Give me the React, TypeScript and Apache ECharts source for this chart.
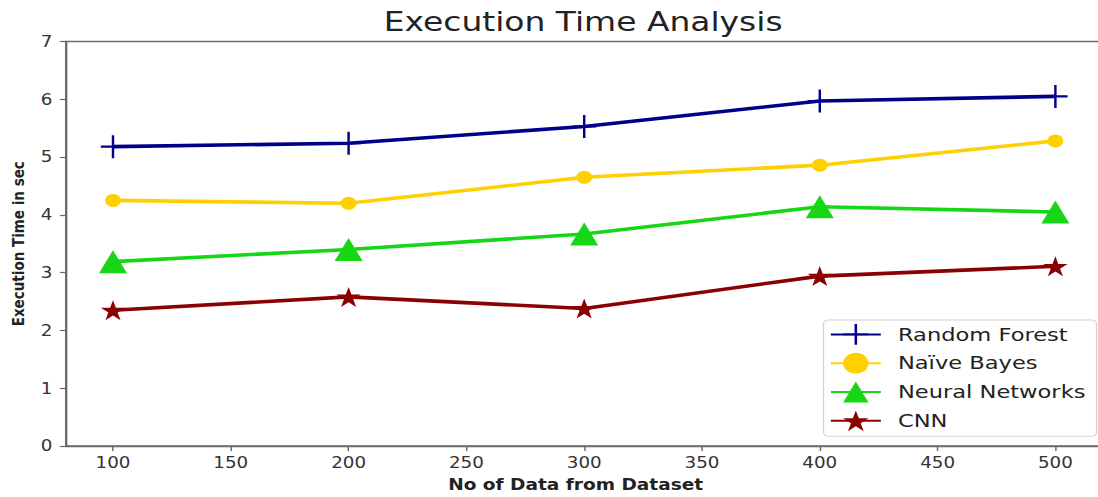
import React, { useEffect, useRef } from "react";
import * as echarts from "echarts";

const titleText = "Execution Time Analysis";
const xAxisName = "No of Data from Dataset";
const yAxisName = "Execution Time in sec";
const xValues = [100, 200, 300, 400, 500];
const xTickValues = [100, 150, 200, 250, 300, 350, 400, 450, 500];
const seriesNames = ["Random Forest", "Naïve Bayes", "Neural Networks", "CNN"];
const randomForest = [5.18, 5.24, 5.53, 5.97, 6.05];
const naiveBayes = [4.25, 4.2, 4.65, 4.86, 5.28];
const neuralNetworks = [3.19, 3.4, 3.67, 4.14, 4.05];
const cnn = [2.35, 2.58, 2.38, 2.94, 3.11];
const seriesColors = ["#00008b", "#ffd000", "#16d616", "#8b0000"];

const STRETCH = 1.22;
const FULL_W = 1098;
const FULL_H = 497;
const LOGICAL_W = 906;
const FONT = "DejaVu Sans";

const plusPath = "path://M9,0h2v22h-2zM0,10h20v2h-20z";
const starPath =
  "path://M0,-10L2.245,-3.09L9.511,-3.09L3.633,1.18L5.878,8.09L0,3.82L-5.878,8.09L-3.633,1.18L-9.511,-3.09L-2.245,-3.09Z";

export default function App() {
  const ref = useRef<HTMLDivElement>(null);

  useEffect(() => {
    if (!ref.current) return;
    const chart = echarts.init(ref.current, null, { renderer: "svg" });
    const allData = [randomForest, naiveBayes, neuralNetworks, cnn];
    const symbols = [plusPath, "circle", "triangle", starPath];
    const sizes: any[] = [[20, 23], 13, 23, [20, 20]];

    chart.setOption({
      animation: false,
      backgroundColor: "#ffffff",
      textStyle: { fontFamily: FONT },
      graphic: [
        {
          type: "text",
          x: 478,
          y: 22,
          style: {
            text: titleText,
            fontFamily: FONT,
            fontSize: 27,
            fill: "#222222",
            textAlign: "center",
            textVerticalAlign: "middle",
          },
        },
      ],
      grid: {
        left: 52.9,
        right: LOGICAL_W - 903.7,
        top: 41.5,
        bottom: 47.5,
        show: true,
        borderColor: "#6a6a6a",
        borderWidth: 1.4,
        backgroundColor: "transparent",
      },
      legend: {
        orient: "vertical",
        left: 675,
        top: 320,
        data: seriesNames,
        itemWidth: 41,
        itemHeight: 26,
        itemGap: 8,
        padding: [4, 9, 5, 5],
        backgroundColor: "rgba(255,255,255,0.85)",
        borderColor: "#d2d2d2",
        borderWidth: 1,
        borderRadius: 4,
        textStyle: {
          fontFamily: FONT,
          fontSize: 18.5,
          color: "#222222",
          padding: [0, 0, 0, 9],
        },
      },
      xAxis: {
        type: "value",
        min: 80,
        max: 520,
        name: xAxisName,
        nameLocation: "middle",
        nameGap: 31,
        nameTextStyle: {
          fontFamily: FONT,
          fontSize: 15.2,
          fontWeight: "bold",
          color: "#222222",
          padding: [0, 14, 0, 0],
        },
        axisLine: { show: true, lineStyle: { color: "#6a6a6a", width: 1.4 } },
        axisTick: {
          show: true,
          inside: false,
          length: 5,
          lineStyle: { color: "#6a6a6a", width: 1.2 },
          customValues: xTickValues,
        },
        axisLabel: {
          fontFamily: FONT,
          fontSize: 15,
          color: "#333333",
          margin: 9,
          customValues: xTickValues,
        },
        splitLine: { show: false },
      },
      yAxis: {
        type: "value",
        min: 0,
        max: 7,
        interval: 1,
        name: yAxisName,
        nameLocation: "middle",
        nameGap: 32,
        nameTextStyle: {
          fontFamily: FONT,
          fontSize: 13.5,
          fontWeight: "bold",
          color: "#222222",
        },
        axisLine: { show: true, lineStyle: { color: "#6a6a6a", width: 1.4 } },
        axisTick: {
          show: true,
          inside: false,
          length: 5,
          lineStyle: { color: "#6a6a6a", width: 1.2 },
        },
        axisLabel: {
          fontFamily: FONT,
          fontSize: 15,
          color: "#333333",
          margin: 11,
        },
        splitLine: { show: false },
      },
      series: seriesNames.map((name, i) => ({
        name,
        type: "line",
        data: xValues.map((x, j) => [x, allData[i][j]]),
        symbol: symbols[i],
        symbolSize: sizes[i],
        showAllSymbol: true,
        lineStyle: { color: seriesColors[i], width: 3.6 },
        itemStyle: {
          color: seriesColors[i],
          borderColor: seriesColors[i],
          borderWidth: 0,
        },
        emphasis: { disabled: true },
        z: 2 + i,
      })),
    });

    return () => {
      chart.dispose();
    };
  }, []);

  return (
    <div
      style={{
        position: "fixed",
        left: 0,
        top: 0,
        width: FULL_W,
        height: FULL_H,
        overflow: "hidden",
        background: "#ffffff",
      }}
    >
      <div
        ref={ref}
        style={{
          width: LOGICAL_W,
          height: FULL_H,
          transform: `scaleX(${STRETCH})`,
          transformOrigin: "0 0",
        }}
      />
    </div>
  );
}
